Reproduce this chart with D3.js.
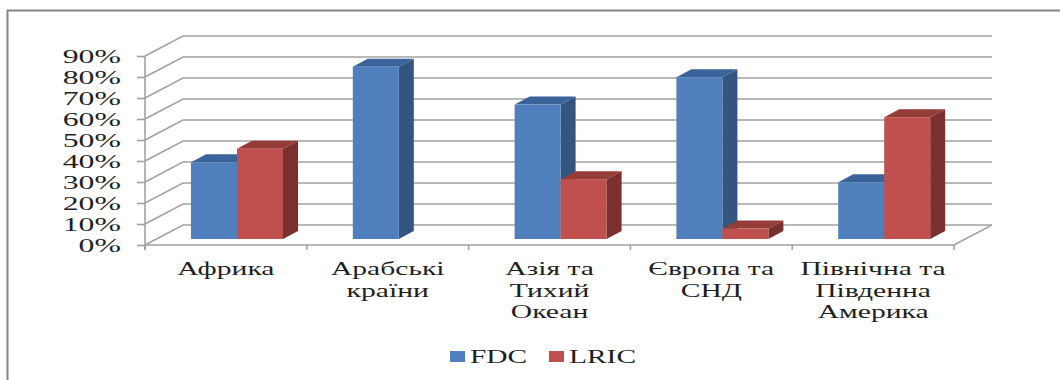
<!DOCTYPE html>
<html>
<head>
<meta charset="utf-8">
<script src="https://cdn.jsdelivr.net/npm/d3@7/dist/d3.min.js"></script>
<style>
html, body { margin: 0; padding: 0; background: #fff; }
svg { display: block; }
text { font-family: "Liberation Serif", serif; fill: #1f1f1f; }
</style>
</head>
<body>
<svg id="chart" width="1060" height="380"></svg>
<script>
// Tariff methodology shares by region
const categories = ["Африка", "Арабські країни", "Азія та Тихий Океан", "Європа та СНД", "Північна та Південна Америка"];
const categoryLines = [["Африка"], ["Арабські", "країни"], ["Азія та", "Тихий", "Океан"], ["Європа та", "СНД"], ["Північна та", "Південна", "Америка"]];
const fdcValues = [36.5, 82, 64, 77, 27];
const lricValues = [43, null, 28.5, 5, 58];
const seriesNames = ["FDC", "LRIC"];
const tickValues = [0, 10, 20, 30, 40, 50, 60, 70, 80, 90];

const palette = {
  FDC: { front: "#4f7fbd", top: "#3a6499", side: "#33557f" },
  LRIC: { front: "#bf504d", top: "#953b38", side: "#7a302e" }
};

const svg = d3.select("#chart");

// Outer frame: left edge and top edge only
svg.append("path")
  .attr("d", "M7.5,380V10.5H1060")
  .attr("fill", "none").attr("stroke", "#858585").attr("stroke-width", 2);

const x = d3.scaleBand().domain(categories).range([145, 954]);
const y = d3.scaleLinear().domain([0, 90]).range([245, 56]);
const floorDx = 38, floorDy = -20;     // oblique offset of the back wall
const barDx = 15, barDy = -8;          // oblique depth of every bar
const barWidth = 46;
const barLift = -6;                    // bars stand slightly behind the front edge

const grid = svg.append("g").attr("fill", "none").attr("stroke", "#a3a3a3").attr("stroke-width", 1.6);
tickValues.forEach(t => {
  const yy = y(t);
  grid.append("path").attr("d", `M${x.range()[0]},${yy}L${x.range()[0] + floorDx},${yy + floorDy}H${x.range()[1] + floorDx}`);
});
// Floor front and right edges
grid.append("path").attr("d", `M${x.range()[0]},${y(0)}H${x.range()[1]}L${x.range()[1] + floorDx},${y(0) + floorDy}`);

// Value axis with ticks drawn on the left of the front edge
const yAxis = d3.axisLeft(y).tickValues(tickValues).tickSize(8).tickFormat(d => d + "%");
const yG = svg.append("g").attr("transform", `translate(${x.range()[0]},0)`).call(yAxis);
yG.selectAll("line, path").attr("stroke", "#a3a3a3").attr("stroke-width", 1.6);
yG.select(".domain").attr("d", `M0,${y(90)}V${y(0) + 5}`);
yG.selectAll("text")
  .attr("font-size", 18.5).attr("x", 0).attr("dy", 0).attr("text-anchor", "end")
  .attr("transform", "translate(-24,6) scale(1.72,1)")
  .style("font-family", '"Liberation Serif", serif').attr("fill", "#1f1f1f");

// Category ticks below the floor
const ticksX = categories.map(c => x(c)).concat(x.range()[1]);
svg.append("g").selectAll("line").data(ticksX).join("line")
  .attr("x1", d => d).attr("x2", d => d).attr("y1", y(0)).attr("y2", y(0) + 5)
  .attr("stroke", "#a3a3a3").attr("stroke-width", 1.6);

// One oblique box per value
function drawBar(parent, left, value, colors) {
  const base = y(0) + barLift;
  const top = base - (y(0) - y(value));
  const g = parent.append("g");
  g.append("path").attr("fill", colors.side)
    .attr("d", `M${left + barWidth},${top}l${barDx},${barDy}V${base + barDy}l${-barDx},${-barDy}Z`);
  g.append("path").attr("fill", colors.top)
    .attr("d", `M${left},${top}l${barDx},${barDy}h${barWidth}l${-barDx},${-barDy}Z`);
  g.append("rect").attr("fill", colors.front)
    .attr("x", left).attr("y", top).attr("width", barWidth).attr("height", base - top);
}

const bars = svg.append("g");
categories.forEach((c, i) => {
  const left = x(c) + 46;
  drawBar(bars, left, fdcValues[i], palette.FDC);
  if (lricValues[i] != null) drawBar(bars, left + barWidth, lricValues[i], palette.LRIC);
});

// Category labels, wrapped and stretched horizontally
categories.forEach((c, i) => {
  const cx = x(c) + x.bandwidth() / 2;
  categoryLines[i].forEach((line, j) => {
    svg.append("text")
      .attr("text-anchor", "middle").attr("font-size", 18.5)
      .attr("transform", `translate(${cx},${275 + j * 21.5}) scale(1.6,1)`)
      .text(line);
  });
});

// Legend
const legendX = [450, 549];
seriesNames.forEach((name, i) => {
  svg.append("rect").attr("x", legendX[i]).attr("y", 351).attr("width", 15).attr("height", 11)
    .attr("fill", palette[name].front);
  svg.append("text").attr("font-size", 19)
    .attr("transform", `translate(${legendX[i] + 20},363) scale(1.55,1)`)
    .text(name);
});
</script>
</body>
</html>
